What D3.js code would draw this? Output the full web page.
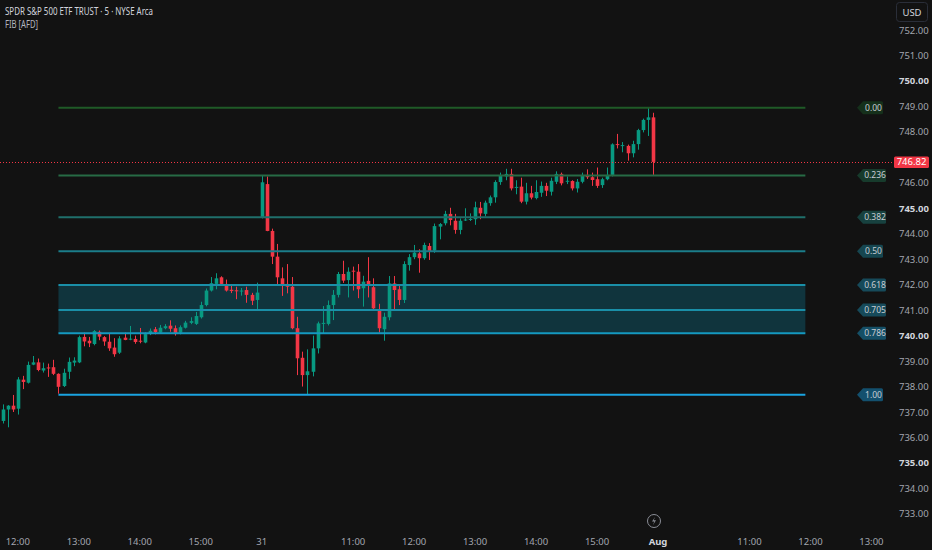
<!DOCTYPE html>
<html>
<head>
<meta charset="utf-8">
<script src="https://cdn.jsdelivr.net/npm/d3@7"></script>
<style>
  html, body { margin: 0; padding: 0; background: #121212; }
  svg { display: block; }
</style>
</head>
<body>
<div id="chart"></div>
<script>
// 5 minute bars, 30 Jul 11:45 -> 31 Jul 15:55 (index 0..128)
const opens = [736.65,737.10,737.25,737.13,738.27,738.15,738.86,738.95,738.63,738.75,738.76,738.50,738.02,738.58,738.94,738.95,739.95,739.80,739.67,740.15,
  739.94,739.76,739.53,739.33,739.92,739.86,739.87,739.80,739.73,740.06,740.25,740.12,740.29,740.39,740.29,740.12,740.31,740.50,740.46,740.72,
  741.20,741.77,742.03,742.29,742.03,741.80,741.78,741.74,741.79,741.60,741.40,
  744.65,745.95,744.11,743.10,742.25,742.03,741.92,740.29,739.13,738.45,738.58,739.50,740.46,740.46,741.20,741.60,742.42,742.18,742.55,
  742.51,741.86,742.15,741.90,741.03,740.25,740.72,742.05,741.82,741.40,742.77,743.08,743.23,743.04,743.52,743.34,744.28,744.41,744.78,744.51,
  744.15,744.52,744.55,744.57,745.02,744.78,745.20,745.43,746.03,746.25,746.35,745.80,745.85,745.26,745.59,745.40,745.61,745.88,745.65,746.04,
  746.35,746.05,746.07,745.78,746.04,746.31,746.22,746.14,745.91,746.14,746.31,747.52,747.45,747.45,747.16,747.52,748.07,748.47,748.57];
const highs = [737.30,737.27,737.67,738.37,738.42,738.98,739.20,739.10,738.94,738.90,739.05,738.52,738.70,739.14,739.15,740.00,740.12,739.95,740.22,740.20,
  739.98,740.10,739.90,739.98,740.12,740.38,740.00,740.30,740.13,740.28,740.34,740.42,740.45,740.60,740.40,740.40,740.58,740.72,740.93,741.33,
  741.85,742.30,742.45,742.33,742.20,742.00,741.92,741.87,741.92,741.68,742.08,
  746.30,746.25,744.20,743.60,742.68,742.81,742.30,740.74,739.37,739.46,740.00,740.55,741.16,741.38,741.79,742.50,742.94,742.68,742.71,
  742.81,742.35,743.08,742.25,741.25,740.90,742.34,742.34,742.00,742.92,743.20,743.56,743.39,743.65,743.63,744.40,744.42,744.90,745.02,744.78,
  744.60,745.00,744.80,745.26,745.25,745.30,745.50,746.10,746.40,746.55,746.55,746.10,746.20,746.00,745.88,746.10,746.05,746.00,746.20,746.45,
  746.40,746.25,746.10,746.15,746.40,746.53,746.40,746.60,746.20,746.60,747.55,747.92,747.60,747.50,747.65,748.12,748.52,748.95,748.75];
const lows = [736.55,736.40,737.00,736.90,737.90,738.12,738.84,738.60,738.55,738.38,738.45,737.72,737.98,738.30,738.80,738.92,739.58,739.55,739.62,739.82,
  739.60,739.40,739.17,739.28,739.82,739.82,739.68,739.70,739.70,740.02,740.05,740.08,740.25,740.15,740.00,740.05,740.28,740.45,740.42,740.67,
  741.15,741.73,741.82,741.98,741.73,741.67,741.43,741.57,741.29,741.20,741.00,
  744.60,744.10,742.81,741.99,741.56,741.66,740.25,738.45,738.00,737.68,738.40,739.30,740.09,740.40,740.61,741.50,742.07,741.50,741.77,
  741.47,741.14,741.50,741.00,740.12,739.80,740.60,741.00,741.20,741.28,742.55,743.00,742.47,742.98,742.97,743.25,743.78,744.33,744.33,744.00,
  743.98,744.50,744.50,744.35,744.57,744.68,745.10,745.22,745.92,746.10,745.70,745.55,745.20,745.15,745.35,745.35,745.45,745.48,745.50,745.95,
  745.90,745.95,745.70,745.62,745.98,746.15,745.88,745.80,745.80,746.10,746.25,747.35,747.20,746.87,747.00,747.30,747.98,747.84,746.31];
const closes = [737.10,737.25,737.10,738.28,738.18,738.85,738.95,738.65,738.72,738.72,738.50,737.99,738.54,738.97,739.02,739.94,739.77,739.70,740.18,739.96,
  739.77,739.50,739.27,739.89,739.83,739.88,739.75,739.77,740.06,740.19,740.14,740.31,740.37,740.27,740.06,740.33,740.51,740.57,740.77,741.20,
  741.77,742.06,742.25,742.03,741.77,741.75,741.74,741.77,741.60,741.37,741.69,
  746.02,744.11,743.10,742.29,741.99,741.92,740.29,739.11,738.45,738.60,739.50,740.48,740.50,741.20,741.60,742.42,742.16,742.51,742.52,
  741.82,742.12,741.95,741.07,740.29,740.74,742.05,741.79,741.40,742.81,743.08,743.26,743.04,743.56,743.30,744.30,744.38,744.78,744.54,744.15,
  744.51,744.56,744.58,745.04,744.80,745.22,745.43,746.03,746.30,746.35,745.78,745.84,745.26,745.59,745.42,745.64,745.88,745.69,746.08,746.35,
  745.98,746.08,745.78,746.04,746.31,746.22,746.11,745.88,746.14,746.31,747.51,747.49,747.48,747.16,747.52,748.07,748.47,748.57,746.82];

const lastPrice = 746.82;

// time axis labels (bar index -> label)
const timeTickIdx = [3, 15, 27, 39, 51, 69, 81, 93, 105, 117, 129, 147, 159, 171];
const timeTickLabels = ["12:00", "13:00", "14:00", "15:00", "31", "11:00", "12:00", "13:00", "14:00", "15:00", "Aug", "11:00", "12:00", "13:00"];
const boldTimeLabels = ["Aug"];

// price axis
const priceTicks = d3.range(733, 753);
const boldPrices = [735, 740, 745, 750];

// fib retracement drawing
const fibRatios = [0, 0.236, 0.382, 0.5, 0.618, 0.705, 0.786, 1];
const fibLabels = ["0.00", "0.236", "0.382", "0.50", "0.618", "0.705", "0.786", "1.00"];
const fibHigh = 748.95, fibLow = 737.68;
const fibStartIdx = 11, fibEndIdx = 158;

const fibLineColors = ["#1f5a27", "#276b45", "#1f6f6b", "#1b7d8a", "#1a8fa8", "#1a8fa8", "#1499c0", "#1aa3e0"];
const fibBoxColors  = ["#15301b", "#173b2c", "#17413f", "#164650", "#164a5a", "#164a5a", "#154f66", "#13506e"];

const W = 932, H = 550;
const upColor = "#089981", downColor = "#f23645";

let svg = d3.select("#chart").append("svg")
    .attr("width", W)
    .attr("height", H);

svg.append("rect").attr("width", W).attr("height", H).attr("fill", "#121212");

// scales
const x = d3.scaleLinear()
    .domain([0, 128])
    .range([2.56, 2.56 + 128 * 5.081]);

const y = d3.scaleLinear()
    .domain([733, 752])
    .range([513.9, 30]);

const bodyW = 3.6;

// header
svg.append("text")
    .attr("x", 5).attr("y", 15)
    .attr("font-family", "Noto Sans, sans-serif")
    .attr("font-size", "10.5px")
    .attr("fill", "#d1d4dc")
    .attr("textLength", 148)
    .attr("lengthAdjust", "spacingAndGlyphs")
    .text("SPDR S&P 500 ETF TRUST · 5 · NYSE Arca");

svg.append("text")
    .attr("x", 5).attr("y", 28)
    .attr("font-family", "Noto Sans, sans-serif")
    .attr("font-size", "10px")
    .attr("fill", "#b2b5be")
    .attr("textLength", 33)
    .attr("lengthAdjust", "spacingAndGlyphs")
    .text("FIB [AFD]");

// fib zone fill, under the candles
const fibPrice = r => fibHigh - r * (fibHigh - fibLow);
svg.append("rect")
    .attr("x", x(fibStartIdx))
    .attr("y", y(fibPrice(0.618)))
    .attr("width", x(fibEndIdx) - x(fibStartIdx))
    .attr("height", y(fibPrice(0.786)) - y(fibPrice(0.618)))
    .attr("fill", "#10343d");

// candles
let candles = svg.append("g").attr("class", "candles");
const bars = d3.range(opens.length);

candles.selectAll("line")
    .data(bars)
    .enter()
    .append("line")
    .attr("x1", i => Math.round(x(i)) + 0.5)
    .attr("x2", i => Math.round(x(i)) + 0.5)
    .attr("y1", i => y(highs[i]))
    .attr("y2", i => y(lows[i]))
    .attr("stroke", i => closes[i] >= opens[i] ? upColor : downColor)
    .attr("stroke-width", 1);

candles.selectAll("rect")
    .data(bars)
    .enter()
    .append("rect")
    .attr("x", i => Math.round(x(i)) + 0.5 - bodyW / 2)
    .attr("y", i => y(Math.max(opens[i], closes[i])))
    .attr("width", bodyW)
    .attr("height", i => Math.max(1, Math.abs(y(opens[i]) - y(closes[i]))))
    .attr("fill", i => closes[i] >= opens[i] ? upColor : downColor);

// fib lines on top
let fib = svg.append("g").attr("class", "fib");

fib.selectAll("line")
    .data(fibRatios)
    .enter()
    .append("line")
    .attr("x1", x(fibStartIdx))
    .attr("x2", x(fibEndIdx))
    .attr("y1", r => y(fibPrice(r)))
    .attr("y2", r => y(fibPrice(r)))
    .attr("stroke", (r, i) => fibLineColors[i])
    .attr("stroke-width", 2);

// fib labels (arrow boxes)
const labelX = 857;
let fibTags = fib.selectAll("g.tag")
    .data(fibRatios)
    .enter()
    .append("g")
    .attr("class", "tag")
    .attr("transform", r => `translate(${labelX},${y(fibPrice(r))})`);

fibTags.append("path")
    .attr("d", (r, i) => {
        const w = fibLabels[i].length > 4 ? 29 : 26;
        return `M0,0 L6,-6.5 L${w - 1.5},-6.5 Q${w},-6.5 ${w},-5 L${w},5 Q${w},6.5 ${w - 1.5},6.5 L6,6.5 Z`;
    })
    .attr("fill", (r, i) => fibBoxColors[i]);

fibTags.append("text")
    .attr("x", (r, i) => fibLabels[i].length > 4 ? 18 : 16.5)
    .attr("y", 3)
    .attr("text-anchor", "middle")
    .attr("font-family", "Noto Sans, sans-serif")
    .attr("font-size", "8.5px")
    .attr("fill", "#c8ccd2")
    .text((r, i) => fibLabels[i]);

// last price line
svg.append("line")
    .attr("x1", 0).attr("x2", 893)
    .attr("y1", Math.round(y(lastPrice)) + 0.5)
    .attr("y2", Math.round(y(lastPrice)) + 0.5)
    .attr("stroke", downColor)
    .attr("stroke-width", 1)
    .attr("stroke-dasharray", "1,2");

// price axis (the tick under the last price tag is hidden by it)
let yAxis = svg.append("g").attr("class", "y-axis");
yAxis.selectAll("text")
    .data(priceTicks.filter(p => Math.abs(y(p) - y(lastPrice)) > 9))
    .enter()
    .append("text")
    .attr("x", 899)
    .attr("y", p => y(p) + 3.5)
    .attr("font-family", "Noto Sans, sans-serif")
    .attr("font-size", "9.5px")
    .attr("font-weight", p => boldPrices.includes(p) ? "bold" : "normal")
    .attr("fill", p => boldPrices.includes(p) ? "#d1d4dc" : "#a3a6af")
    .text(p => d3.format(".2f")(p));

// last price tag
svg.append("rect")
    .attr("x", 894).attr("y", y(lastPrice) - 5.5)
    .attr("width", 35).attr("height", 11.5)
    .attr("rx", 1.5)
    .attr("fill", downColor);
svg.append("text")
    .attr("x", 911.5).attr("y", y(lastPrice) + 3.5)
    .attr("text-anchor", "middle")
    .attr("font-family", "Noto Sans, sans-serif")
    .attr("font-size", "9.5px")
    .attr("fill", "#ffffff")
    .text(d3.format(".2f")(lastPrice));

// USD button
svg.append("rect")
    .attr("x", 896.5).attr("y", 2.5)
    .attr("width", 31).attr("height", 19)
    .attr("rx", 3)
    .attr("fill", "none")
    .attr("stroke", "#2a2e39");
svg.append("text")
    .attr("x", 912).attr("y", 15.5)
    .attr("text-anchor", "middle")
    .attr("font-family", "Noto Sans, sans-serif")
    .attr("font-size", "9.5px")
    .attr("fill", "#d1d4dc")
    .text("USD");

// time axis
let xAxis = svg.append("g").attr("class", "x-axis");
xAxis.selectAll("text")
    .data(timeTickIdx)
    .enter()
    .append("text")
    .attr("x", i => x(i))
    .attr("y", 545)
    .attr("text-anchor", "middle")
    .attr("font-family", "Noto Sans, sans-serif")
    .attr("font-size", "9.5px")
    .attr("font-weight", (d, k) => boldTimeLabels.includes(timeTickLabels[k]) ? "bold" : "normal")
    .attr("fill", (d, k) => boldTimeLabels.includes(timeTickLabels[k]) ? "#d1d4dc" : "#a3a6af")
    .text((d, k) => timeTickLabels[k]);

// session break icon
let icon = svg.append("g").attr("transform", `translate(${x(129) - 4},521)`);
icon.append("circle").attr("r", 6.5).attr("fill", "none").attr("stroke", "#8a8d96").attr("stroke-width", 1);
icon.append("path")
    .attr("d", "M1,-4 L-2,0.5 L0.3,0.5 L-1,4 L2,-0.8 L-0.3,-0.8 Z")
    .attr("fill", "#8a8d96");
</script>
</body>
</html>
